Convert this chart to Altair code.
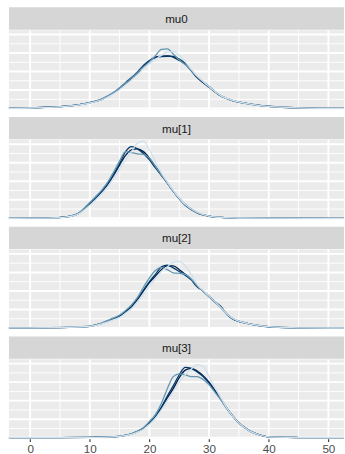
import altair as alt
import pandas as pd

PANELS = ["mu0", "mu[1]", "mu[2]", "mu[3]"]
CHAINS = ["1", "2", "3", "4"]
CHAIN_COLORS = ["#d1e1ec", "#6497b1", "#03396c", "#011f4b"]

X_TICKS = [0, 10, 20, 30, 40, 50]
X_MINOR = [5, 15, 25, 35, 45]
Y_MAJOR = [0.0, 0.02, 0.04, 0.06, 0.08]
Y_MINOR = [0.01, 0.03, 0.05, 0.07]

# ---- mu0 ----
X_MU0 = [-5, 0, 5, 8, 10, 12, 14, 16, 18, 19, 20, 21, 22, 23, 24, 25, 26, 28, 30, 32, 34, 36, 38, 40, 45, 50, 55]
MU0_C1 = [0.0001, 0.0006, 0.0019, 0.0038, 0.0060, 0.0095, 0.0160, 0.0255, 0.0365, 0.0430, 0.0485, 0.0530, 0.0575, 0.0610, 0.0615, 0.0575, 0.0505, 0.0350, 0.0235, 0.0140, 0.0088, 0.0058, 0.0037, 0.0023, 0.0007, 0.0002, 0.0001]
MU0_C2 = [0.0001, 0.0007, 0.0021, 0.0041, 0.0066, 0.0105, 0.0175, 0.0275, 0.0390, 0.0450, 0.0505, 0.0570, 0.0640, 0.0645, 0.0590, 0.0525, 0.0475, 0.0345, 0.0240, 0.0135, 0.0082, 0.0056, 0.0038, 0.0024, 0.0008, 0.0002, 0.0001]
MU0_C3 = [0.0001, 0.0007, 0.0020, 0.0040, 0.0064, 0.0100, 0.0170, 0.0280, 0.0395, 0.0465, 0.0520, 0.0550, 0.0562, 0.0565, 0.0563, 0.0535, 0.0490, 0.0340, 0.0235, 0.0135, 0.0085, 0.0059, 0.0039, 0.0025, 0.0007, 0.0002, 0.0001]
MU0_C4 = [0.0001, 0.0007, 0.0020, 0.0039, 0.0062, 0.0098, 0.0168, 0.0270, 0.0385, 0.0460, 0.0515, 0.0555, 0.0565, 0.0570, 0.0555, 0.0520, 0.0480, 0.0335, 0.0230, 0.0138, 0.0087, 0.0058, 0.0038, 0.0024, 0.0007, 0.0002, 0.0001]

# ---- mu[1] ----
X_MU1 = [-5, 0, 4, 6, 8, 10, 11, 12, 13, 14, 15, 16, 17, 18, 19, 20, 21, 22, 23, 24, 26, 28, 30, 32, 35, 40, 50, 55]
MU1_C1 = [0, 0.0001, 0.0005, 0.0013, 0.0042, 0.0140, 0.0200, 0.0265, 0.0340, 0.0430, 0.0530, 0.0630, 0.0720, 0.0810, 0.0830, 0.0740, 0.0610, 0.0490, 0.0390, 0.0300, 0.0150, 0.0065, 0.0024, 0.0009, 0.0003, 0.0001, 0, 0]
MU1_C2 = [0, 0.0001, 0.0006, 0.0016, 0.0050, 0.0170, 0.0235, 0.0305, 0.0390, 0.0500, 0.0620, 0.0720, 0.0710, 0.0695, 0.0690, 0.0650, 0.0560, 0.0470, 0.0380, 0.0290, 0.0145, 0.0060, 0.0023, 0.0009, 0.0003, 0.0001, 0, 0]
MU1_C3 = [0, 0.0001, 0.0006, 0.0015, 0.0048, 0.0160, 0.0220, 0.0290, 0.0370, 0.0475, 0.0590, 0.0720, 0.0775, 0.0750, 0.0700, 0.0630, 0.0545, 0.0465, 0.0380, 0.0290, 0.0140, 0.0058, 0.0022, 0.0009, 0.0003, 0.0001, 0, 0]
MU1_C4 = [0, 0.0001, 0.0006, 0.0015, 0.0047, 0.0155, 0.0215, 0.0285, 0.0365, 0.0465, 0.0575, 0.0680, 0.0740, 0.0750, 0.0720, 0.0650, 0.0560, 0.0470, 0.0385, 0.0295, 0.0148, 0.0062, 0.0023, 0.0009, 0.0003, 0.0001, 0, 0]

# ---- mu[2] ----
X_MU2 = [-5, 0, 5, 10, 12, 14, 15, 16, 17, 18, 19, 20, 21, 22, 23, 24, 25, 26, 27, 28, 29, 30, 31, 32, 33, 34, 35, 36, 38, 40, 45, 50, 55]
MU2_C1 = [0, 0.0002, 0.0005, 0.0016, 0.0045, 0.0090, 0.0115, 0.0160, 0.0210, 0.0280, 0.0360, 0.0450, 0.0530, 0.0610, 0.0660, 0.0710, 0.0720, 0.0670, 0.0580, 0.0470, 0.0405, 0.0345, 0.0285, 0.0220, 0.0150, 0.0102, 0.0075, 0.0056, 0.0030, 0.0014, 0.0002, 0, 0]
MU2_C2 = [0, 0.0002, 0.0006, 0.0020, 0.0055, 0.0110, 0.0140, 0.0190, 0.0250, 0.0330, 0.0440, 0.0540, 0.0620, 0.0655, 0.0630, 0.0595, 0.0590, 0.0580, 0.0530, 0.0455, 0.0395, 0.0335, 0.0275, 0.0215, 0.0145, 0.0098, 0.0072, 0.0055, 0.0030, 0.0014, 0.0002, 0, 0]
MU2_C3 = [0, 0.0002, 0.0005, 0.0018, 0.0050, 0.0100, 0.0130, 0.0180, 0.0235, 0.0315, 0.0410, 0.0500, 0.0580, 0.0660, 0.0680, 0.0650, 0.0610, 0.0570, 0.0520, 0.0445, 0.0400, 0.0345, 0.0285, 0.0230, 0.0145, 0.0095, 0.0070, 0.0054, 0.0029, 0.0013, 0.0002, 0, 0]
MU2_C4 = [0, 0.0002, 0.0005, 0.0018, 0.0050, 0.0100, 0.0128, 0.0175, 0.0230, 0.0310, 0.0400, 0.0490, 0.0560, 0.0630, 0.0670, 0.0670, 0.0630, 0.0580, 0.0525, 0.0450, 0.0400, 0.0340, 0.0280, 0.0225, 0.0148, 0.0100, 0.0073, 0.0055, 0.0030, 0.0014, 0.0002, 0, 0]

# ---- mu[3] ----
X_MU3 = [-5, 0, 5, 10, 14, 16, 17, 18, 19, 20, 21, 22, 23, 24, 25, 26, 27, 28, 29, 30, 31, 32, 33, 34, 35, 36, 37, 38, 40, 45, 50, 55]
MU3_C1 = [0, 0, 0.0001, 0.0003, 0.0009, 0.0022, 0.0036, 0.0060, 0.0092, 0.0145, 0.0210, 0.0300, 0.0400, 0.0500, 0.0600, 0.0680, 0.0740, 0.0790, 0.0770, 0.0660, 0.0540, 0.0430, 0.0320, 0.0230, 0.0160, 0.0108, 0.0066, 0.0040, 0.0009, 0.0002, 0, 0]
MU3_C2 = [0, 0, 0.0001, 0.0004, 0.0011, 0.0028, 0.0045, 0.0072, 0.0110, 0.0175, 0.0250, 0.0370, 0.0530, 0.0660, 0.0690, 0.0680, 0.0660, 0.0660, 0.0630, 0.0570, 0.0490, 0.0405, 0.0310, 0.0228, 0.0158, 0.0105, 0.0065, 0.0040, 0.0009, 0.0002, 0, 0]
MU3_C3 = [0, 0, 0.0001, 0.0004, 0.0010, 0.0026, 0.0042, 0.0068, 0.0102, 0.0160, 0.0230, 0.0330, 0.0450, 0.0560, 0.0680, 0.0760, 0.0750, 0.0710, 0.0660, 0.0590, 0.0500, 0.0410, 0.0315, 0.0230, 0.0160, 0.0110, 0.0068, 0.0041, 0.0009, 0.0002, 0, 0]
MU3_C4 = [0, 0, 0.0001, 0.0004, 0.0010, 0.0025, 0.0040, 0.0066, 0.0100, 0.0158, 0.0228, 0.0320, 0.0430, 0.0530, 0.0650, 0.0730, 0.0750, 0.0720, 0.0670, 0.0600, 0.0510, 0.0420, 0.0320, 0.0232, 0.0162, 0.0108, 0.0066, 0.0040, 0.0009, 0.0002, 0, 0]

PANEL_DATA = [
    (X_MU0, [MU0_C1, MU0_C2, MU0_C3, MU0_C4]),
    (X_MU1, [MU1_C1, MU1_C2, MU1_C3, MU1_C4]),
    (X_MU2, [MU2_C1, MU2_C2, MU2_C3, MU2_C4]),
    (X_MU3, [MU3_C1, MU3_C2, MU3_C3, MU3_C4]),
]

W = 337
SH = 22.5
PH = 79.8
FONT = "Liberation Sans"

xscale = alt.Scale(domain=[-3.55, 52.62], nice=False, zero=False)
yscale = alt.Scale(domain=[-0.001, 0.0847], nice=False, zero=False)


def xenc(field, bottom):
    if bottom:
        ax = alt.Axis(values=X_TICKS, grid=False, domain=False, ticks=True,
                      tickColor="#333333", tickSize=3, tickWidth=1.1,
                      labelColor="#4D4D4D", labelFontSize=11.7, labelFont=FONT,
                      labelPadding=2.2, title=None)
    else:
        ax = None
    return alt.X(field, scale=xscale, axis=ax)


def strip(label):
    base = alt.Chart(pd.DataFrame({"t": [label]}))
    r = base.mark_rect(color="#D6D6D6").encode(
        x=alt.value(0), x2=alt.value(W), y=alt.value(0), y2=alt.value(SH))
    t = base.mark_text(font=FONT, fontSize=11.7, color="#1A1A1A",
                       baseline="middle", align="center").encode(
        text="t:N", x=alt.value(W / 2), y=alt.value(SH / 2 + 0.5))
    return alt.layer(r, t).properties(width=W, height=SH)


def panel(xs, series, bottom):
    gy_minor = alt.Chart(pd.DataFrame({"v": Y_MINOR})).mark_rule(
        color="white", strokeWidth=0.95).encode(
        y=alt.Y("v:Q", scale=yscale, axis=None))
    gy_major = alt.Chart(pd.DataFrame({"v": Y_MAJOR})).mark_rule(
        color="white", strokeWidth=1.9).encode(
        y=alt.Y("v:Q", scale=yscale, axis=None))
    gx_minor = alt.Chart(pd.DataFrame({"v": X_MINOR})).mark_rule(
        color="white", strokeWidth=0.95, clip=True).encode(x=xenc("v:Q", bottom))
    gx_major = alt.Chart(pd.DataFrame({"v": X_TICKS})).mark_rule(
        color="white", strokeWidth=1.9, clip=True).encode(x=xenc("v:Q", bottom))
    layers = [gy_minor, gy_major, gx_minor, gx_major]
    # darkest chain drawn first, lightest last (on top)
    for c, col, vals in reversed(list(zip(CHAINS, CHAIN_COLORS, series))):
        df = pd.DataFrame({"x": xs, "d": vals, "chain": c})
        layers.append(
            alt.Chart(df).mark_line(strokeWidth=1.3, interpolate="monotone",
                                    clip=True, color=col).encode(
                x=xenc("x:Q", bottom),
                y=alt.Y("d:Q", scale=yscale, axis=None),
                order=alt.Order("x:Q"),
            )
        )
    return alt.layer(*layers).properties(
        width=W, height=PH, view=alt.ViewBackground(fill="#EBEBEB", strokeWidth=0))


blocks = []
for i, (label, (xs, series)) in enumerate(zip(PANELS, PANEL_DATA)):
    blocks.append(alt.vconcat(strip(label), panel(xs, series, i == len(PANELS) - 1), spacing=0))

chart = alt.vconcat(*blocks, spacing=7.35).properties(
    padding={"left": 8, "top": 6, "right": 0, "bottom": 0},
    background="white",
).configure_view(strokeWidth=0)

chart.save("out.html", embed_options={"renderer": "svg", "actions": False})
